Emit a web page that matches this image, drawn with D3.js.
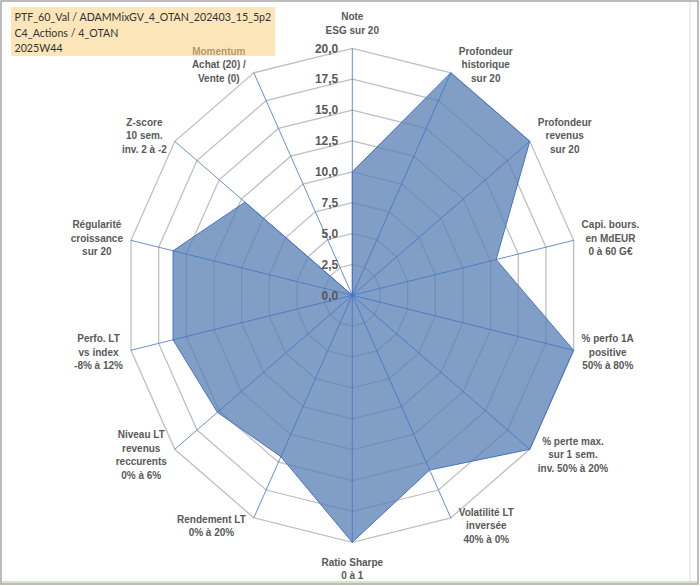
<!DOCTYPE html>
<html>
<head>
<meta charset="utf-8">
<script src="https://cdn.jsdelivr.net/npm/d3@7"></script>
<style>
  body { margin: 0; background: #fff; }
  svg { display: block; }
</style>
</head>
<body>
<svg id="radar" width="700" height="586"></svg>
<script>
// axis labels, clockwise from the top
var axes = [
  ["Note", "ESG sur 20"],
  ["Profondeur", "historique", "sur 20"],
  ["Profondeur", "revenus", "sur 20"],
  ["Capi. bours.", "en MdEUR", "0 à 60 G€"],
  ["% perfo 1A", "positive", "50% à 80%"],
  ["% perte max.", "sur 1 sem.", "inv. 50% à 20%"],
  ["Volatilité LT", "inversée", "40% à 0%"],
  ["Ratio Sharpe", "0 à 1"],
  ["Rendement LT", "0% à 20%"],
  ["Niveau LT", "revenus", "reccurents", "0% à 6%"],
  ["Perfo. LT", "vs index", "-8% à 12%"],
  ["Régularité", "croissance", "sur 20"],
  ["Z-score", "10 sem.", "inv. 2 à -2"],
  ["Momentum", "Achat (20) /", "Vente (0)"]
];
var scores = [10, 20, 20, 13, 20, 20, 15.7, 20, 14.5, 15.2, 16.2, 16.2, 12.1, 0];
var ticks = [0, 2.5, 5, 7.5, 10, 12.5, 15, 17.5, 20];
var titleLines = ["PTF_60_Val / ADAMMixGV_4_OTAN_202403_15_5p2", "C4_Actions / 4_OTAN", "2025W44"];

var svg = d3.select("#radar");
var cx = 352.3, cy = 295.3;
var n = axes.length;
var fmt = function(v) { return d3.format(".1f")(v).replace(".", ","); };

// the plot is slightly squeezed horizontally, as in the spreadsheet
var rx = d3.scaleLinear().domain([0, 20]).range([0, 227]);
var ry = d3.scaleLinear().domain([0, 20]).range([0, 247]);
var angle = d3.scaleLinear().domain([0, n]).range([0, 2 * Math.PI]);

function pt(i, v) {
  var a = angle(i);
  return [cx + Math.sin(a) * rx(v), cy - Math.cos(a) * ry(v)];
}

// frame
svg.append("rect").attr("x", 1).attr("y", 1).attr("width", 697).attr("height", 583)
  .attr("fill", "none").attr("stroke", "#a6a6a6").attr("stroke-width", 1.5);
svg.append("line").attr("x1", 690).attr("x2", 690).attr("y1", 2).attr("y2", 582)
  .attr("stroke", "#dcdcdc");
svg.append("line").attr("x1", 2).attr("x2", 697).attr("y1", 582).attr("y2", 582)
  .attr("stroke", "#a9d18e");

var g = svg.append("g");

// grid rings
g.selectAll(".ring")
  .data(ticks.filter(function(t) { return t > 0; }))
  .enter().append("polygon")
    .attr("class", "ring")
    .attr("points", function(t) { return d3.range(n).map(function(i) { return pt(i, t).join(","); }).join(" "); })
    .attr("fill", "none")
    .attr("stroke", "#bfbfbf")
    .attr("stroke-width", 1.3);

// series area
var line = d3.line().curve(d3.curveLinearClosed);
g.append("path")
  .attr("d", line(scores.map(function(v, i) { return pt(i, v); })))
  .attr("fill", "rgb(90,129,180)")
  .attr("fill-opacity", 0.76)
  .attr("stroke", "#4472c4")
  .attr("stroke-width", 1);

// spokes
g.selectAll(".spoke")
  .data(axes)
  .enter().append("line")
    .attr("class", "spoke")
    .attr("x1", cx).attr("y1", cy)
    .attr("x2", function(d, i) { return pt(i, 20)[0]; })
    .attr("y2", function(d, i) { return pt(i, 20)[1]; })
    .attr("stroke", "#4472c4")
    .attr("stroke-width", 0.8);

// value ticks on the top spoke
g.selectAll(".tick")
  .data(ticks)
  .enter().append("text")
    .attr("class", "tick")
    .attr("x", cx - 14)
    .attr("y", function(t) { return cy - ry(t); })
    .attr("dy", "0.35em")
    .attr("text-anchor", "end")
    .attr("font-family", "Liberation Sans, Arial, sans-serif")
    .attr("font-weight", "bold")
    .attr("font-size", 12)
    .attr("fill", "#595959")
    .text(fmt);

// axis labels
var lh = 13.6, gap = 8;
axes.forEach(function(lines, i) {
  var a = angle(i), s = Math.sin(a), c = Math.cos(a);
  var e = pt(i, 20);
  var t = g.append("text")
    .attr("text-anchor", "middle")
    .attr("font-family", "Liberation Sans, Arial, sans-serif")
    .attr("font-weight", "bold")
    .attr("font-size", 10)
    .attr("fill", "#595959");
  var spans = t.selectAll("tspan").data(lines).enter().append("tspan").text(function(d) { return d; });
  var w = d3.max(spans.nodes(), function(nd) { return nd.getComputedTextLength(); });
  var h = lines.length * lh;
  var x, yc;
  if (Math.abs(s) < 0.01) {
    x = e[0];
    yc = c > 0 ? e[1] - 11 - h / 2 : e[1] + 13 + h / 2;
  } else {
    x = e[0] + (s > 0 ? 1 : -1) * (gap + w / 2);
    yc = e[1] - c * 9;
  }
  spans.attr("x", x)
    .attr("y", function(d, k) { return yc - h / 2 + lh * (k + 0.5); })
    .attr("dy", "0.35em");
});

// title box (semi-transparent, lies over the Momentum label)
var box = svg.append("g");
box.append("rect").attr("x", 11).attr("y", 7).attr("width", 264).attr("height", 49)
  .attr("fill", "#fad080").attr("fill-opacity", 0.55);
var title = box.selectAll("text")
  .data(titleLines)
  .enter().append("text")
    .attr("x", 14.5)
    .attr("y", function(d, k) { return 17.5 + k * 15.3; })
    .attr("dy", "0.35em")
    .attr("font-family", "Lato, sans-serif")
    .attr("font-size", 12)
    .attr("fill", "#333333")
    .text(function(d) { return d; });
// shrink the font so the first line fits the box like the original
var firstW = title.nodes()[0].getComputedTextLength();
title.attr("font-size", 12 * 257 / firstW);
</script>
</body>
</html>
